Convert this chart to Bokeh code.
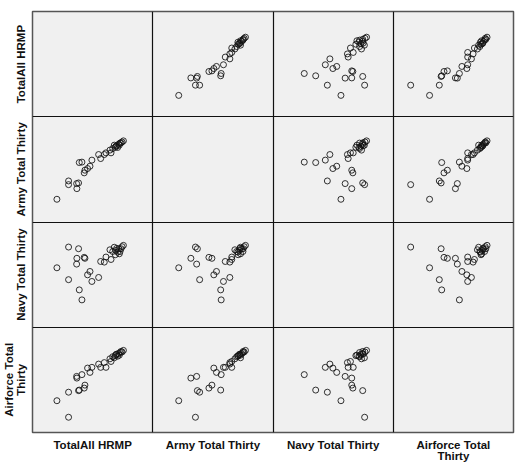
from bokeh.plotting import figure
from bokeh.models import FixedTicker, ColumnDataSource
from bokeh.embed import file_html
from bokeh.resources import INLINE

# ---- data (relative units) ----
var_names = ["TotalAll HRMP", "Army Total Thirty", "Navy Total Thirty", "Airforce Total\nThirty"]

total = [20.3, 30.0, 30.0, 38.3, 36.9, 36.7, 43.0, 43.6, 38.9, 41.1, 47.8, 45.8, 49.4, 55.0, 56.7,
         59.7, 61.1, 65.3, 64.4, 66.7, 68.0, 68.9, 69.4, 70.8, 71.7, 72.2, 72.8, 73.6, 74.5, 75.6, 70.0]
army = [21.6, 35.5, 39.0, 37.1, 31.7, 36.5, 46.7, 49.2, 56.5, 56.9, 53.0, 50.8, 58.8, 64.1, 60.3,
        64.1, 65.7, 65.7, 68.3, 69.8, 73.0, 71.0, 72.0, 70.8, 74.0, 73.0, 75.0, 75.2, 76.0, 77.1, 72.5]
navy = [56.5, 76.2, 45.2, 74.6, 65.5, 60.0, 66.4, 65.5, 35.5, 26.0, 53.0, 49.8, 43.5, 47.3, 62.5,
        61.9, 66.7, 64.4, 73.6, 72.0, 76.0, 68.9, 73.0, 71.4, 74.5, 69.8, 72.0, 74.6, 76.5, 77.8, 75.0]
airforce = [30.2, 14.5, 38.3, 39.8, 51.7, 53.3, 42.2, 45.0, 40.3, 55.0, 57.1, 61.2, 61.9, 65.0, 61.9,
            66.4, 61.9, 67.5, 70.0, 72.0, 71.0, 73.0, 74.0, 72.5, 75.0, 73.5, 76.0, 77.0, 76.5, 78.0, 74.5]

variables = [total, army, navy, airforce]
n = len(variables)
span = 100.0

p = figure(frame_width=481, frame_height=421, output_backend="svg", toolbar_location=None,
           x_range=(0, n * span), y_range=(0, n * span),
           min_border_left=0, min_border_right=8, min_border_top=11, min_border_bottom=0,
           background_fill_color="#f0f0f0", border_fill_color="white")

xs, ys = [], []
for i in range(n):          # row (y variable)
    for j in range(n):      # column (x variable)
        if i == j:
            continue
        for a, b in zip(variables[j], variables[i]):
            xs.append(j * span + a)
            ys.append((n - 1 - i) * span + b)

src = ColumnDataSource(dict(x=xs, y=ys))
p.scatter("x", "y", source=src, marker="circle", size=6, fill_color=None,
          line_color="#111111", line_alpha=0.85, line_width=1)

# panel separators
p.xgrid.ticker = FixedTicker(ticks=[span * k for k in range(1, n)])
p.ygrid.ticker = FixedTicker(ticks=[span * k for k in range(1, n)])
for g in (p.xgrid, p.ygrid):
    g.grid_line_color = "#111111"
    g.grid_line_width = 1.2
    g.grid_line_alpha = 1.0

p.outline_line_color = "#555555"
p.outline_line_width = 1.5

centers = [span * k + span / 2 for k in range(n)]
p.xaxis.ticker = FixedTicker(ticks=centers)
p.xaxis.major_label_overrides = {centers[k]: var_names[k] for k in range(n)}
p.yaxis.ticker = FixedTicker(ticks=centers)
p.yaxis.major_label_overrides = {centers[n - 1 - k]: var_names[k] for k in range(n)}
p.yaxis.major_label_orientation = "parallel"

for ax in (p.xaxis, p.yaxis):
    ax.axis_line_color = None
    ax.major_tick_line_color = None
    ax.minor_tick_line_color = None
    ax.major_label_text_font = "Liberation Sans"
    ax.major_label_text_font_style = "bold"
    ax.major_label_text_font_size = "11.5px"
    ax.major_label_text_color = "#111111"
    ax.major_label_standoff = 0
    ax.major_label_text_line_height = 0.95

open("out.html", "w").write(file_html(p, INLINE))
